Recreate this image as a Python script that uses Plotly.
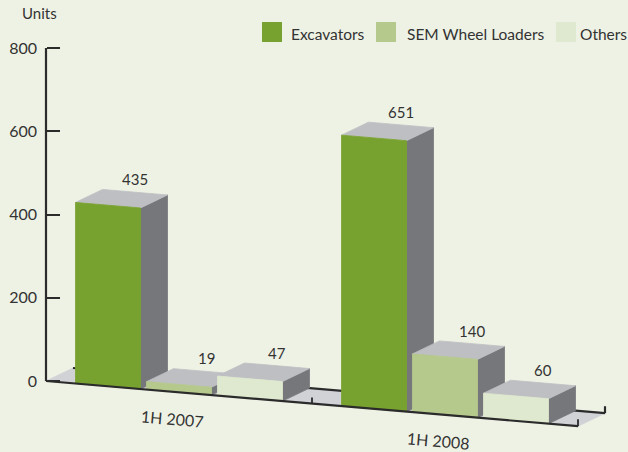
import math
import plotly.graph_objects as go

# ---------------- data ----------------
periods = ["1H 2007", "1H 2008"]
series_names = ["Excavators", "SEM Wheel Loaders", "Others"]
excavators = [435, 651]
sem_wheel_loaders = [19, 140]
others = [47, 60]
y_ticks = [0, 200, 400, 600, 800]
y_title = "Units"

series_values = [excavators, sem_wheel_loaders, others]

# ---------------- style ----------------
FRONT = ["#78a22f", "#b6c98c", "#dfe9cf"]
TOP = "#bebfc3"
SIDE = "#76777b"
FLOOR = "#d0d2d5"
BG = "#eef2e4"
INK = "#2b2b2b"
TXT = "#333333"
FONT = "Lato"

W, H = 628, 452
PX_X = 266.0            # pixels per category
PX_Y = 333.0 / 800.0    # pixels per unit
AXIS_X0 = 46            # pixel x of the value axis
ZERO_Y = 381            # pixel y of value 0 at the axis
SLOPE = 0.085 * PX_X / PX_Y   # drop of the floor (units per category)
DX = 27.0 / PX_X               # depth offset (category units)
DY = 13.0 / PX_Y               # depth offset (value units)
BAR_W = 65.0 / PX_X
STRIDE = 71.0 / PX_X

x_range = [-0.5 - AXIS_X0 / PX_X, -0.5 + (W - AXIS_X0) / PX_X]
y_range = [-(H - ZERO_Y) / PX_Y, ZERO_Y / PX_Y]


def base(x):
    return -SLOPE * (x + 0.5)


fig = go.Figure()


def poly(xs, ys, color, width=0.8):
    fig.add_trace(go.Scatter(
        x=list(xs) + [xs[0]], y=list(ys) + [ys[0]], mode="lines",
        fill="toself", fillcolor=color, line=dict(color=color, width=width),
        hoverinfo="skip", showlegend=False))


def line(xs, ys, width=2.2):
    fig.add_trace(go.Scatter(
        x=xs, y=ys, mode="lines", line=dict(color=INK, width=width),
        hoverinfo="skip", showlegend=False))


n_cat = len(periods)
x_left, x_right = -0.5, n_cat - 0.5

# floor
poly([x_left, x_right, x_right + DX, x_left + DX],
     [base(x_left), base(x_right), base(x_right) + DY, base(x_left) + DY], FLOOR)
# back edge of floor
line([x_left + DX, x_right + DX], [base(x_left) + DY, base(x_right) + DY])
line([x_right + DX, x_right + DX], [base(x_right) + DY, base(x_right) + DY + 7 / PX_Y])

# bars, left to right
offsets = [(i - (len(series_values) - 1) / 2) * STRIDE for i in range(len(series_values))]
annotations = []
for c in range(n_cat):
    for s, vals in enumerate(series_values):
        v = vals[c]
        xc = c + offsets[s]
        x0, x1 = xc - BAR_W / 2, xc + BAR_W / 2
        b0, b1 = base(x0), base(x1)
        # side
        poly([x1, x1 + DX, x1 + DX, x1], [b1, b1 + DY, b1 + v + DY, b1 + v], SIDE)
        # top
        poly([x0, x1, x1 + DX, x0 + DX], [b0 + v, b1 + v, b1 + v + DY, b0 + v + DY], TOP)
        # front
        poly([x0, x1, x1, x0], [b0, b1, b1 + v, b0 + v], FRONT[s])
        annotations.append(dict(
            x=xc + DX, y=base(xc) + v, xref="x", yref="y", text=str(v),
            showarrow=False, yanchor="middle", yshift=26,
            font=dict(family=FONT, size=15, color=TXT)))

# front edge (category axis) with ticks
line([x_left, x_right], [base(x_left), base(x_right)])
for xt, ln in [(0.5, 6), (x_right, 7)]:
    line([xt, xt], [base(xt), base(xt) + ln / PX_Y], width=1.8)

# value axis line
line([x_left, x_left], [0, y_ticks[-1]])

# category labels
angle = math.degrees(math.atan(0.085))
for c, lab in enumerate(periods):
    annotations.append(dict(
        x=c, y=base(c), xref="x", yref="y", text=lab, showarrow=False,
        textangle=angle, yshift=-26, xshift=-7,
        font=dict(family=FONT, size=16, color=TXT)))

# axis title
annotations.append(dict(
    x=20 / W, y=1 - 13 / H, xref="paper", yref="paper", text=y_title,
    showarrow=False, xanchor="left", yanchor="middle",
    font=dict(family=FONT, size=15, color=TXT)))

# legend (swatches + labels)
legend_sw = [262, 376, 556]
legend_tx = [289, 405, 578]
shapes = []
for s, name in enumerate(series_names):
    shapes.append(dict(type="rect", xref="paper", yref="paper",
                       x0=legend_sw[s] / W, x1=(legend_sw[s] + 20) / W,
                       y0=1 - 42 / H, y1=1 - 22 / H,
                       fillcolor=FRONT[s], line=dict(width=0)))
    annotations.append(dict(
        x=legend_tx[s] / W, y=1 - 34 / H, xref="paper", yref="paper", text=name,
        showarrow=False, xanchor="left", yanchor="middle",
        font=dict(family=FONT, size=15.5, color=TXT)))

fig.update_layout(
    width=W, height=H,
    margin=dict(l=0, r=0, t=0, b=0),
    paper_bgcolor=BG, plot_bgcolor=BG,
    showlegend=False,
    xaxis=dict(range=x_range, visible=False, fixedrange=True),
    yaxis=dict(range=y_range, anchor="free", position=AXIS_X0 / W,
               tickvals=y_ticks, ticktext=[str(t) for t in y_ticks],
               ticks="inside", ticklen=13, tickwidth=2, tickcolor=INK,
               showgrid=False, zeroline=False, showline=False,
               ticklabelstandoff=9,
               tickfont=dict(family=FONT, size=16, color=TXT), fixedrange=True),
    annotations=annotations,
    shapes=shapes,
)

fig.write_html(
    "out.html",
    config={"displayModeBar": False},
    post_script="document.body.style.margin='0';document.body.style.background='" + BG + "';",
)
